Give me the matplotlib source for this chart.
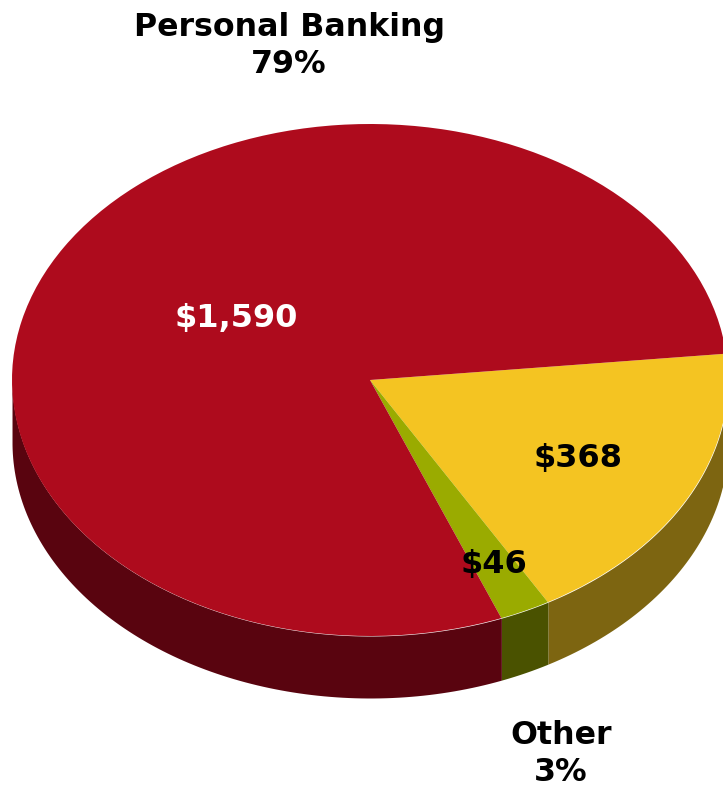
import numpy as np
import matplotlib
matplotlib.use('Agg')
import matplotlib.pyplot as plt

# segments, clockwise from the top of the yellow slice
values = [368, 46, 1590]
amounts = ['$368', '$46', '$1,590']
top_colors = ['#f4c422', '#9aab00', '#ae0b1d']
side_colors = ['#7d6511', '#4a5200', '#59040f']
amount_colors = ['black', 'black', 'white']
outer_labels = ['Personal Banking\n79%', 'Other\n3%']

W, H = 723, 789
cx, cy = 370, 380   # pie centre in pixels
rx, ry = 358, 256
depth = 62
start = 5.9

fig = plt.figure(figsize=(W / 100, H / 100), dpi=100)
ax = fig.add_axes([0, 0, 1, 1])

# the wall first, then the flat pie over it
angles = start - np.cumsum([0] + values) / sum(values) * 360
for i in range(len(values)):
    a0, a1 = angles[i], angles[i + 1]
    t = np.radians(np.arange(a0, a1 - 1, -1.0).tolist() + [a1])
    t = t[np.sin(t) <= 0]
    ax.fill_between(np.cos(t), np.sin(t), np.sin(t) - depth / ry,
                    color=side_colors[i], lw=0, zorder=1)

# pie works in unit circle coordinates, so the axes limits do the squashing
ax.pie(values, startangle=start, counterclock=False, colors=top_colors,
       wedgeprops={'linewidth': 0, 'zorder': 2}, frame=True)
ax.set_xlim((0 - cx) / rx, (W - cx) / rx)
ax.set_ylim((cy - H) / ry, (cy - 0) / ry)
ax.set_aspect('auto')
ax.axis('off')


def put_text(x, y, s, color='black', size=23):
    fig.text(x / W, 1 - y / H, s, color=color, ha='center', va='center',
             fontsize=size, fontweight='bold', family='DejaVu Sans',
             linespacing=1.27, zorder=5)


put_text(578, 459, amounts[0], amount_colors[0])
put_text(494, 565, amounts[1], amount_colors[1])
put_text(236, 318, amounts[2], amount_colors[2])
put_text(289, 46, outer_labels[0], size=22.8)
put_text(561, 754, outer_labels[1], size=22.8)

fig.savefig('out.png', dpi=100)
